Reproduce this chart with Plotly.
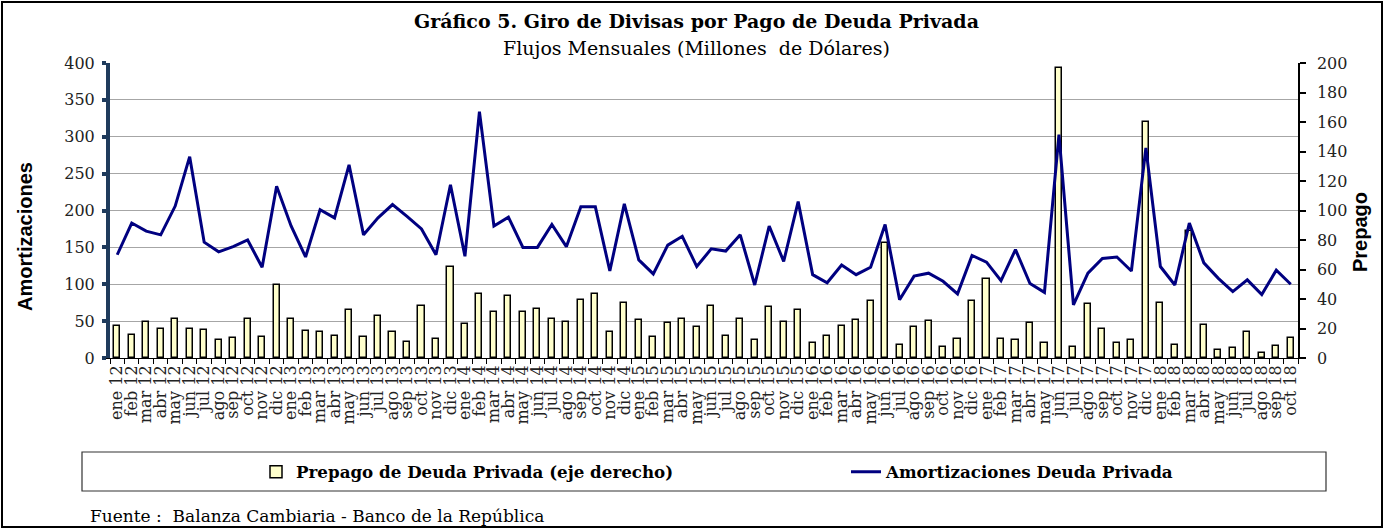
import plotly.graph_objects as go

# Monthly categories, ene 2012 - oct 2018
months = ["ene", "feb", "mar", "abr", "may", "jun", "jul", "ago", "sep", "oct", "nov", "dic"]
years = ["12", "13", "14", "15", "16", "17", "18"]
categories = [f"{m} {y}" for y in years for m in months][:82]

# Amortizaciones Deuda Privada (left axis, USD millones)
amortizaciones = [
    140, 183, 172, 167, 206, 273, 157, 144, 151, 160, 123, 233,
    179, 137, 201, 190, 262, 167, 190, 208, 192, 175, 140, 235,
    138, 334, 179, 191, 150, 150, 181, 151, 205, 205, 118, 209,
    133, 114, 153, 165, 124, 148, 145, 167, 99, 179, 131, 212,
    113, 102, 126, 113, 123, 181, 79, 111, 115, 104, 87, 139,
    130, 105, 147, 101, 89, 303, 72, 115, 135, 137, 118, 285,
    124, 99, 183, 129, 108, 90, 106, 86, 119, 100,
]

# Prepago de Deuda Privada (right axis, USD millones)
prepago = [
    21.5, 15.8, 24.2, 19.9, 26.4, 19.9, 19.0, 12.4, 13.3, 26.4, 14.0, 49.3,
    26.4, 18.1, 17.6, 14.7, 32.3, 14.0, 28.3, 17.6, 10.8, 35.0, 13.1, 61.7,
    23.3, 43.4, 31.0, 41.8, 31.0, 33.2, 26.7, 24.2, 39.1, 43.4, 17.6, 37.3,
    25.8, 14.0, 23.5, 26.4, 20.8, 35.0, 14.7, 26.7, 12.4, 34.4, 24.2, 32.5,
    9.9, 14.7, 21.5, 25.5, 38.4, 78.0, 9.0, 20.8, 24.9, 7.5, 13.1, 38.4,
    53.6, 13.1, 12.4, 23.5, 9.9, 196.6, 7.2, 36.8, 19.9, 9.9, 12.4, 159.8,
    37.3, 9.0, 85.9, 22.6, 5.7, 6.8, 17.6, 3.4, 8.4, 13.6,
]

left_ticks = list(range(0, 401, 50))
right_ticks = list(range(0, 201, 20))

SERIF = "DejaVu Serif"
SANS = "Liberation Sans"
NAVY = "#000080"
AXIS_NAVY = "#1F3B5C"

W, H = 1384, 529
L, R, T, B = 110, 86, 63, 171
PW, PH = W - L - R, H - T - B


def px_x(x):
    return (x - L) / PW


def px_y(y):
    return (H - B - y) / PH


fig = go.Figure()

# bars drawn on the base (right-hand) axis so the line overlays them
fig.add_trace(go.Bar(
    x=categories, y=prepago, yaxis="y", legend="legend",
    name="Prepago de Deuda Privada (eje derecho)",
    marker=dict(color="#FFFFCC", line=dict(color="black", width=1.5)),
    width=0.42,
))
fig.add_trace(go.Scatter(
    x=categories, y=amortizaciones, yaxis="y2", mode="lines", legend="legend2",
    name="Amortizaciones Deuda Privada",
    line=dict(color=NAVY, width=3),
))

legend_font = dict(family=SERIF, size=16.7, color="black", weight="bold")

fig.update_layout(
    width=W, height=H,
    margin=dict(l=L, r=R, t=T, b=B),
    paper_bgcolor="white", plot_bgcolor="white",
    showlegend=True,
    bargap=0,
    xaxis=dict(
        type="category", range=[-0.5, len(categories) - 0.5],
        tickmode="array", tickvals=categories, ticktext=categories,
        tickangle=-90, tickson="boundaries",
        ticks="outside", ticklen=5, tickcolor="black", tickwidth=1,
        showline=True, linecolor="black", linewidth=1,
        showgrid=False, zeroline=False,
        tickfont=dict(family=SERIF, size=16, color="#222"),
    ),
    yaxis=dict(
        side="right", range=[0, 200], tickmode="array", tickvals=right_ticks,
        ticks="outside", ticklen=6, tickcolor="black", tickwidth=1.5,
        showline=True, linecolor="black", linewidth=1.5,
        showgrid=False, zeroline=False, ticklabelstandoff=8,
        tickfont=dict(family=SERIF, size=16, color="#222"),
    ),
    yaxis2=dict(
        side="left", overlaying="y", range=[0, 400], tickmode="array", tickvals=left_ticks,
        ticks="outside", ticklen=4, tickcolor=AXIS_NAVY, tickwidth=4,
        showline=True, linecolor=AXIS_NAVY, linewidth=4,
        showgrid=True, gridcolor="#A6A6A6", gridwidth=1, zeroline=False,
        ticklabelstandoff=4,
        tickfont=dict(family=SERIF, size=16, color="#222"),
    ),
    legend=dict(
        orientation="h", x=px_x(256), xanchor="left", y=px_y(472), yanchor="middle",
        bgcolor="rgba(0,0,0,0)", borderwidth=0, font=legend_font,
    ),
    legend2=dict(
        orientation="h", x=px_x(846), xanchor="left", y=px_y(472), yanchor="middle",
        bgcolor="rgba(0,0,0,0)", borderwidth=0, font=legend_font,
    ),
)

annotations = [
    dict(text="<b>Gráfico 5. Giro de Divisas por Pago de Deuda Privada</b>",
         x=px_x(696), y=px_y(21), font=dict(family=SERIF, size=19, color="black")),
    dict(text="Flujos Mensuales (Millones  de Dólares)",
         x=px_x(696), y=px_y(48), font=dict(family=SERIF, size=19, color="black")),
    dict(text="<b>Amortizaciones</b>", textangle=-90,
         x=px_x(25), y=px_y(237), font=dict(family=SANS, size=20, color="black")),
    dict(text="<b>Prepago</b>", textangle=-90,
         x=px_x(1360), y=px_y(232), font=dict(family=SANS, size=20, color="black")),
    dict(text="Fuente :  Balanza Cambiaria - Banco de la República",
         x=px_x(88), y=px_y(516), xanchor="left",
         font=dict(family=SERIF, size=17, color="black")),
]
for a in annotations:
    a.setdefault("xanchor", "center")
    fig.add_annotation(xref="paper", yref="paper", showarrow=False, yanchor="middle", **a)

# legend frame and outer chart frame
fig.add_shape(type="rect", xref="paper", yref="paper",
              x0=px_x(82), x1=px_x(1326), y0=px_y(491), y1=px_y(452),
              line=dict(color="#333", width=1.2), fillcolor="rgba(0,0,0,0)")
fig.add_shape(type="rect", xref="paper", yref="paper",
              x0=px_x(2), x1=px_x(1382), y0=px_y(527), y1=px_y(2),
              line=dict(color="black", width=2), fillcolor="rgba(0,0,0,0)")

fig.write_html("out.html")
